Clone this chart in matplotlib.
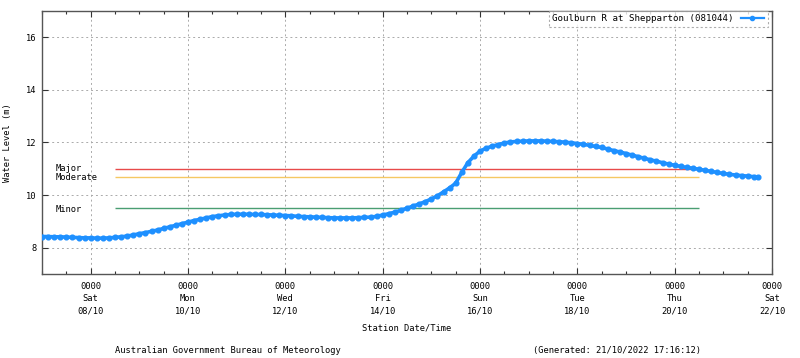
import matplotlib
matplotlib.use("Agg")
import matplotlib.pyplot as plt
import matplotlib.dates as mdates
import numpy as np
import pandas as pd

# ---- data ----
start = pd.Timestamp("2022-10-07 00:00")
hours = [0, 3, 6, 9, 12, 15, 18, 21,
         24, 27, 30, 33, 36, 39, 42, 45,
         48, 51, 54, 57, 60, 63, 66, 69,
         72, 75, 78, 81, 84, 87, 90, 93,
         96, 99, 102, 105, 108, 111, 114, 117,
         120, 123, 126, 129, 132, 135, 138, 141,
         144, 147, 150, 153, 156, 159, 162, 165,
         168, 171, 174, 177, 180, 183, 186, 189,
         192, 195, 198, 201, 204, 207, 210, 213,
         216, 219, 222, 225, 228, 231, 234, 237,
         240, 243, 246, 249, 252, 255, 258, 261,
         264, 267, 270, 273, 276, 279, 282, 285,
         288, 291, 294, 297, 300, 303, 306, 309,
         312, 315, 318, 321, 324, 327, 330, 333,
         336, 339, 342, 345, 348, 351, 353]
levels = [8.42, 8.42, 8.41, 8.41, 8.40, 8.39, 8.38, 8.37,
          8.37, 8.36, 8.36, 8.37, 8.39, 8.41, 8.44, 8.48,
          8.53, 8.57, 8.62, 8.67, 8.73, 8.79, 8.85, 8.91,
          8.97, 9.03, 9.08, 9.13, 9.18, 9.21, 9.24, 9.26,
          9.27, 9.27, 9.27, 9.26, 9.26, 9.25, 9.24, 9.23,
          9.22, 9.21, 9.19, 9.18, 9.17, 9.16, 9.15, 9.14,
          9.13, 9.13, 9.13, 9.13, 9.14, 9.15, 9.16, 9.19,
          9.24, 9.29, 9.35, 9.42, 9.50, 9.58, 9.66, 9.75,
          9.85, 9.97, 10.12, 10.27, 10.45, 10.86, 11.23, 11.48,
          11.67, 11.78, 11.86, 11.92, 11.98, 12.02, 12.04, 12.05,
          12.06, 12.06, 12.06, 12.05, 12.04, 12.03, 12.01, 11.99,
          11.96, 11.93, 11.89, 11.85, 11.81, 11.75, 11.69, 11.64,
          11.58, 11.52, 11.46, 11.40, 11.34, 11.29, 11.23, 11.18,
          11.13, 11.09, 11.05, 11.02, 10.98, 10.94, 10.90, 10.86,
          10.82, 10.79, 10.76, 10.74, 10.72, 10.70, 10.67]

flood_names = ["Major", "Moderate", "Minor"]
flood_levels = [11.0, 10.7, 9.5]
flood_colors = ["#e84a4a", "#f5c862", "#4a9e72"]
flood_start = pd.Timestamp("2022-10-08 12:00")
flood_end = pd.Timestamp("2022-10-20 12:00")

series_label = "Goulburn R at Shepparton (081044)"
x_label = "Station Date/Time"
y_label = "Water Level (m)"
footer_left = "Australian Government Bureau of Meteorology"
footer_right = "(Generated: 21/10/2022 17:16:12)"

times = [start + pd.Timedelta(hours=h) for h in hours]

mono = "DejaVu Sans Mono"
plt.rcParams["font.family"] = mono
plt.rcParams["font.size"] = 6.3

fig = plt.figure(figsize=(8.0, 3.58), dpi=100)
ax = fig.add_axes([0.0525, 0.235, 0.9125, 0.734])

ax.plot(times, levels, color="#1e90ff", lw=2.6, marker="o", ms=3.4,
        mec="#1e90ff", mfc="#1e90ff", label=series_label, zorder=3)

for name, lev, col in zip(flood_names, flood_levels, flood_colors):
    ax.hlines(lev, flood_start, flood_end, color=col, lw=1.0, zorder=2)

# flood labels
ax.text(pd.Timestamp("2022-10-07 06:30"), 11.0, "Major", va="center", ha="left")
ax.text(pd.Timestamp("2022-10-07 06:30"), 10.68, "Moderate", va="center", ha="left")
ax.text(pd.Timestamp("2022-10-07 06:30"), 9.45, "Minor", va="center", ha="left")

ax.set_xlim(pd.Timestamp("2022-10-07"), pd.Timestamp("2022-10-22"))
ax.set_ylim(7, 17)
ax.set_yticks([8, 10, 12, 14, 16])

major_ticks = pd.date_range("2022-10-08", "2022-10-22", freq="2D")
ax.set_xticks(major_ticks)
ax.set_xticklabels([t.strftime("0000\n%a\n%d/%m") for t in major_ticks],
                   linespacing=1.45)
ax.xaxis.set_minor_locator(mdates.HourLocator(byhour=[0, 12]))

ax.tick_params(which="both", direction="in", top=True, right=True,
               colors="#333333", labelcolor="black")
ax.tick_params(which="major", length=4, width=0.8, pad=6)
ax.tick_params(which="minor", length=2, width=0.8)
ax.tick_params(axis="y", pad=4)

ax.grid(True, which="major", color="#aaaaaa", linestyle=(0, (2, 3)), lw=0.7)
for s in ax.spines.values():
    s.set_color("#555555")
    s.set_linewidth(1.0)

ax.set_xlabel(x_label, labelpad=6)
ax.set_ylabel(y_label, labelpad=10)

leg = ax.legend(loc="upper right", markerfirst=False, handlelength=2.6,
                borderpad=0.35, borderaxespad=0.0, frameon=True, fancybox=False,
                bbox_to_anchor=(0.994, 1.0), fontsize=6.6)
leg.get_frame().set_linestyle((0, (2, 2)))
leg.get_frame().set_edgecolor("#999999")
leg.get_frame().set_linewidth(0.8)
for h in leg.legend_handles:
    h.set_markersize(3.0)
    h.set_linewidth(1.6)

fig.text(0.285, 0.022, footer_left, ha="center", va="center", fontsize=6.3)
fig.text(0.771, 0.022, footer_right, ha="center", va="center", fontsize=6.3)

fig.savefig("out.png", dpi=100)
